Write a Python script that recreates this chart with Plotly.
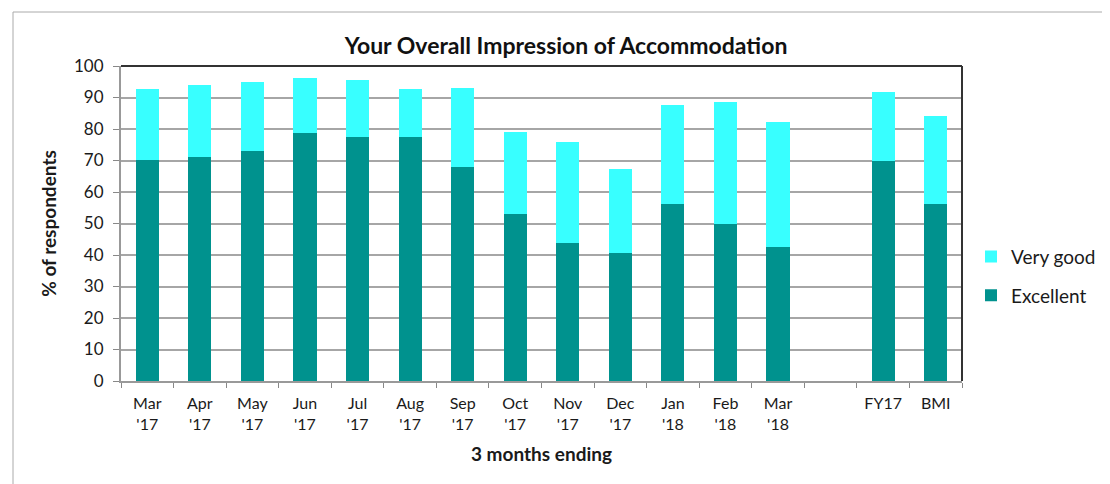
import plotly.graph_objects as go

categories = ["Mar<br>'17", "Apr<br>'17", "May<br>'17", "Jun<br>'17", "Jul<br>'17", "Aug<br>'17",
              "Sep<br>'17", "Oct<br>'17", "Nov<br>'17", "Dec<br>'17", "Jan<br>'18", "Feb<br>'18",
              "Mar<br>'18", " ", "FY17", "BMI"]
excellent = [70.3, 71.1, 72.9, 78.8, 77.4, 77.4, 67.9, 53.1, 43.7, 40.6, 56.3, 50.0, 42.4, None, 69.8, 56.3]
very_good = [22.3, 22.9, 21.9, 17.4, 18.3, 15.2, 25.1, 26.0, 32.3, 26.8, 31.4, 38.5, 39.9, None, 21.9, 27.7]
y_ticks = [0, 10, 20, 30, 40, 50, 60, 70, 80, 90, 100]

FONT = "Lato"
# page body has an 8px offset, so figure coordinates are shifted by -8
L, T, PW, PH = 113, 58, 841, 315
fig = go.Figure()
fig.add_trace(go.Bar(name="Excellent", x=categories, y=excellent, legendgroup="e", legendrank=2,
                     marker=dict(color="#00928E", line=dict(width=0))))
fig.add_trace(go.Bar(name="Very good", x=categories, y=very_good, legendgroup="v", legendrank=1,
                     marker=dict(color="#38FFFF", line=dict(width=0))))

fig.update_layout(
    width=1110, height=484,
    barmode="stack", bargap=0.56,
    plot_bgcolor="white", paper_bgcolor="white",
    margin=dict(l=L, r=1110 - L - PW, t=T, b=484 - T - PH, autoexpand=False),
    font=dict(family=FONT, color="#1a1a1a", size=16),
    title=dict(text="<b>Your Overall Impression of Accommodation</b>", x=558/1110, xref="container", xanchor="center",
               y=1-38/484, yref="container", yanchor="middle", font=dict(size=23, family=FONT, color="#111")),
    legend=dict(x=(963-L)/PW, xanchor="left", y=0.333, yanchor="middle", traceorder="grouped",
                font=dict(size=19, family=FONT), itemsizing="constant", tracegroupgap=11),
    showlegend=True,
)
fig.update_xaxes(
    type="category", categoryorder="array", categoryarray=categories,
    ticks="outside", tickson="boundaries", ticklen=5, tickcolor="#888", tickwidth=1,
    showline=True, linecolor="#999", linewidth=2, automargin=False,
    showgrid=False, ticklabelstandoff=7,
    title=dict(text="<b>3 months ending</b>", font=dict(size=19, family=FONT), standoff=16),
    tickfont=dict(size=16),
)
fig.update_yaxes(
    range=[0, 100], tickvals=y_ticks, ticks="outside", ticklen=6, tickcolor="#888",
    showline=True, linecolor="#999", linewidth=2, automargin=False,
    showgrid=True, gridcolor="#a6a6a6", gridwidth=2,
    ticklabelstandoff=6,
    title=dict(text="<b>% of respondents</b>", font=dict(size=19, family=FONT), standoff=12),
    tickfont=dict(size=17), zeroline=False,
)
# top and right dark border of plot area
fig.add_shape(type="line", xref="paper", yref="paper", x0=0, x1=1, y0=1, y1=1, line=dict(color="#333", width=2))
fig.add_shape(type="line", xref="paper", yref="paper", x0=1, x1=1, y0=0, y1=1, line=dict(color="#333", width=2))
# outer frame
fig.add_shape(type="rect", xref="paper", yref="paper", x0=(5-L)/PW, x1=1.3, y0=-0.5, y1=(T+PH-4)/PH,
              line=dict(color="#aaa", width=1), layer="below")

fig.write_html("out.html")
